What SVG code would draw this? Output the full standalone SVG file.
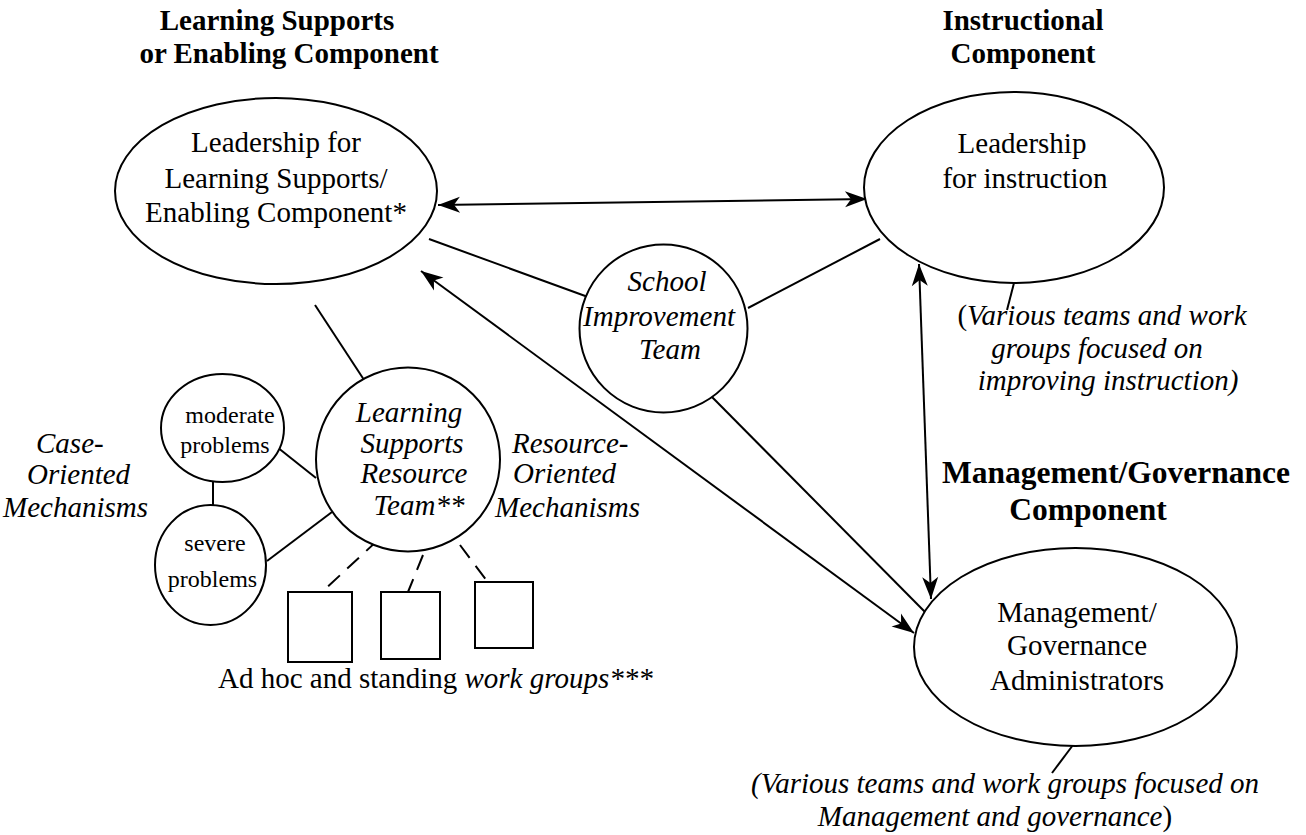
<svg xmlns="http://www.w3.org/2000/svg" width="1306" height="835" viewBox="0 0 1306 835">
<style>
text{font-family:"Liberation Serif","Times New Roman",serif;fill:#000}
.hd{font-size:29px;font-weight:bold}
.hd2{font-size:31.5px;font-weight:bold}
.t{font-size:29px}
.ti{font-size:29px;font-style:italic}
.ts{font-size:24px}
.up{font-style:normal}
.shape{fill:#fff;stroke:#000;stroke-width:2}
.ln{stroke:#000;stroke-width:2;fill:none}
.dash{stroke:#000;stroke-width:2;fill:none;stroke-dasharray:16,10}
</style>
<defs>
<marker id="ah" markerUnits="userSpaceOnUse" markerWidth="30" markerHeight="24" viewBox="-24 -12 26 24" refX="0" refY="0" orient="auto-start-reverse">
<path d="M0,0 L-22,-8 L-16,0 L-22,8 Z" fill="#000"/>
</marker>
</defs>
<rect width="1306" height="835" fill="#fff"/>

<g id="headers">
<text class="hd" x="277" y="30" text-anchor="middle">Learning Supports</text>
<text class="hd" x="289" y="63" text-anchor="middle">or Enabling Component</text>
<text class="hd" x="1023" y="30" text-anchor="middle">Instructional</text>
<text class="hd" x="1023" y="63" text-anchor="middle">Component</text>
<text class="hd2" x="1116" y="483" text-anchor="middle">Management/Governance</text>
<text class="hd2" x="1088" y="520" text-anchor="middle">Component</text>
</g>

<g id="connectors">
<line class="ln" x1="438" y1="205" x2="867" y2="199" marker-start="url(#ah)" marker-end="url(#ah)"/>
<line class="ln" x1="429" y1="239" x2="588" y2="297"/>
<line class="ln" x1="748" y1="308" x2="880" y2="239"/>
<line class="ln" x1="421" y1="271" x2="914" y2="633" marker-start="url(#ah)" marker-end="url(#ah)"/>
<line class="ln" x1="712" y1="397" x2="927" y2="614"/>
<line class="ln" x1="919" y1="264" x2="931" y2="599" marker-start="url(#ah)" marker-end="url(#ah)"/>
<line class="ln" x1="1014" y1="283" x2="1007" y2="310"/>
<line class="ln" x1="1073" y1="745" x2="1052" y2="773"/>
<line class="ln" x1="315" y1="305" x2="370" y2="389"/>
<line class="ln" x1="213" y1="482" x2="213" y2="505"/>
<line class="ln" x1="277" y1="447" x2="316" y2="478"/>
<line class="ln" x1="267" y1="561" x2="332" y2="512"/>
<line class="dash" x1="378" y1="540" x2="322" y2="592"/>
<line class="dash" x1="423" y1="555" x2="408" y2="592"/>
<line class="dash" x1="460" y1="545" x2="487" y2="581"/>
</g>

<g id="leadership-learning-supports">
<ellipse class="shape" cx="276" cy="191" rx="161" ry="93"/>
<text class="t" x="276" y="152" text-anchor="middle">Leadership for</text>
<text class="t" x="276" y="188" text-anchor="middle">Learning Supports/</text>
<text class="t" x="276" y="222" text-anchor="middle">Enabling Component*</text>
</g>

<g id="leadership-instruction">
<ellipse class="shape" cx="1014" cy="187.5" rx="150" ry="95.5"/>
<text class="t" x="1022" y="153" text-anchor="middle">Leadership</text>
<text class="t" x="1025" y="188" text-anchor="middle">for instruction</text>
</g>

<g id="school-improvement-team">
<circle class="shape" cx="663.5" cy="328.5" r="84"/>
<text class="ti" x="667" y="291" text-anchor="middle">School</text>
<text class="ti" x="659" y="326" text-anchor="middle">Improvement</text>
<text class="ti" x="670" y="359" text-anchor="middle">Team</text>
</g>

<g id="instruction-teams-note">
<text class="ti" x="1102" y="325" text-anchor="middle"><tspan class="up">(</tspan>Various teams and work</text>
<text class="ti" x="1097" y="358" text-anchor="middle">groups focused on</text>
<text class="ti" x="1108" y="390" text-anchor="middle">improving instruction)</text>
</g>

<g id="management-administrators">
<ellipse class="shape" cx="1075.5" cy="647" rx="161.5" ry="99"/>
<text class="t" x="1077" y="622" text-anchor="middle">Management/</text>
<text class="t" x="1077" y="655" text-anchor="middle">Governance</text>
<text class="t" x="1077" y="690" text-anchor="middle">Administrators</text>
</g>

<g id="management-teams-note">
<text class="ti" x="1005" y="793" text-anchor="middle">(Various teams and work groups focused on</text>
<text class="ti" x="995" y="826" text-anchor="middle">Management and governance<tspan class="up">)</tspan></text>
</g>

<g id="learning-supports-resource-team">
<circle class="shape" cx="408" cy="459.5" r="92"/>
<text class="ti" x="409" y="422" text-anchor="middle">Learning</text>
<text class="ti" x="412" y="453" text-anchor="middle">Supports</text>
<text class="ti" x="414" y="483" text-anchor="middle">Resource</text>
<text class="ti" x="419" y="515" text-anchor="middle">Team**</text>
</g>

<g id="moderate-problems">
<ellipse class="shape" cx="222.5" cy="428" rx="61.5" ry="54"/>
<text class="ts" x="230" y="423" text-anchor="middle">moderate</text>
<text class="ts" x="225" y="453" text-anchor="middle">problems</text>
</g>

<g id="severe-problems">
<ellipse class="shape" cx="210.5" cy="565" rx="55.5" ry="60"/>
<text class="ts" x="215" y="551" text-anchor="middle">severe</text>
<text class="ts" x="212.5" y="587" text-anchor="middle">problems</text>
</g>

<g id="case-oriented-label">
<text class="ti" x="36" y="453">Case-</text>
<text class="ti" x="27" y="484">Oriented</text>
<text class="ti" x="3" y="517">Mechanisms</text>
</g>

<g id="resource-oriented-label">
<text class="ti" x="512" y="453">Resource-</text>
<text class="ti" x="513" y="483">Oriented</text>
<text class="ti" x="495" y="517">Mechanisms</text>
</g>

<g id="work-group-1"><rect class="shape" x="288" y="592" width="64" height="70"/></g>
<g id="work-group-2"><rect class="shape" x="381" y="592" width="59" height="67"/></g>
<g id="work-group-3"><rect class="shape" x="475" y="582" width="58" height="66"/></g>

<g id="work-groups-label">
<text class="t" x="218" y="688">Ad hoc and standing <tspan font-style="italic">work groups***</tspan></text>
</g>
</svg>
